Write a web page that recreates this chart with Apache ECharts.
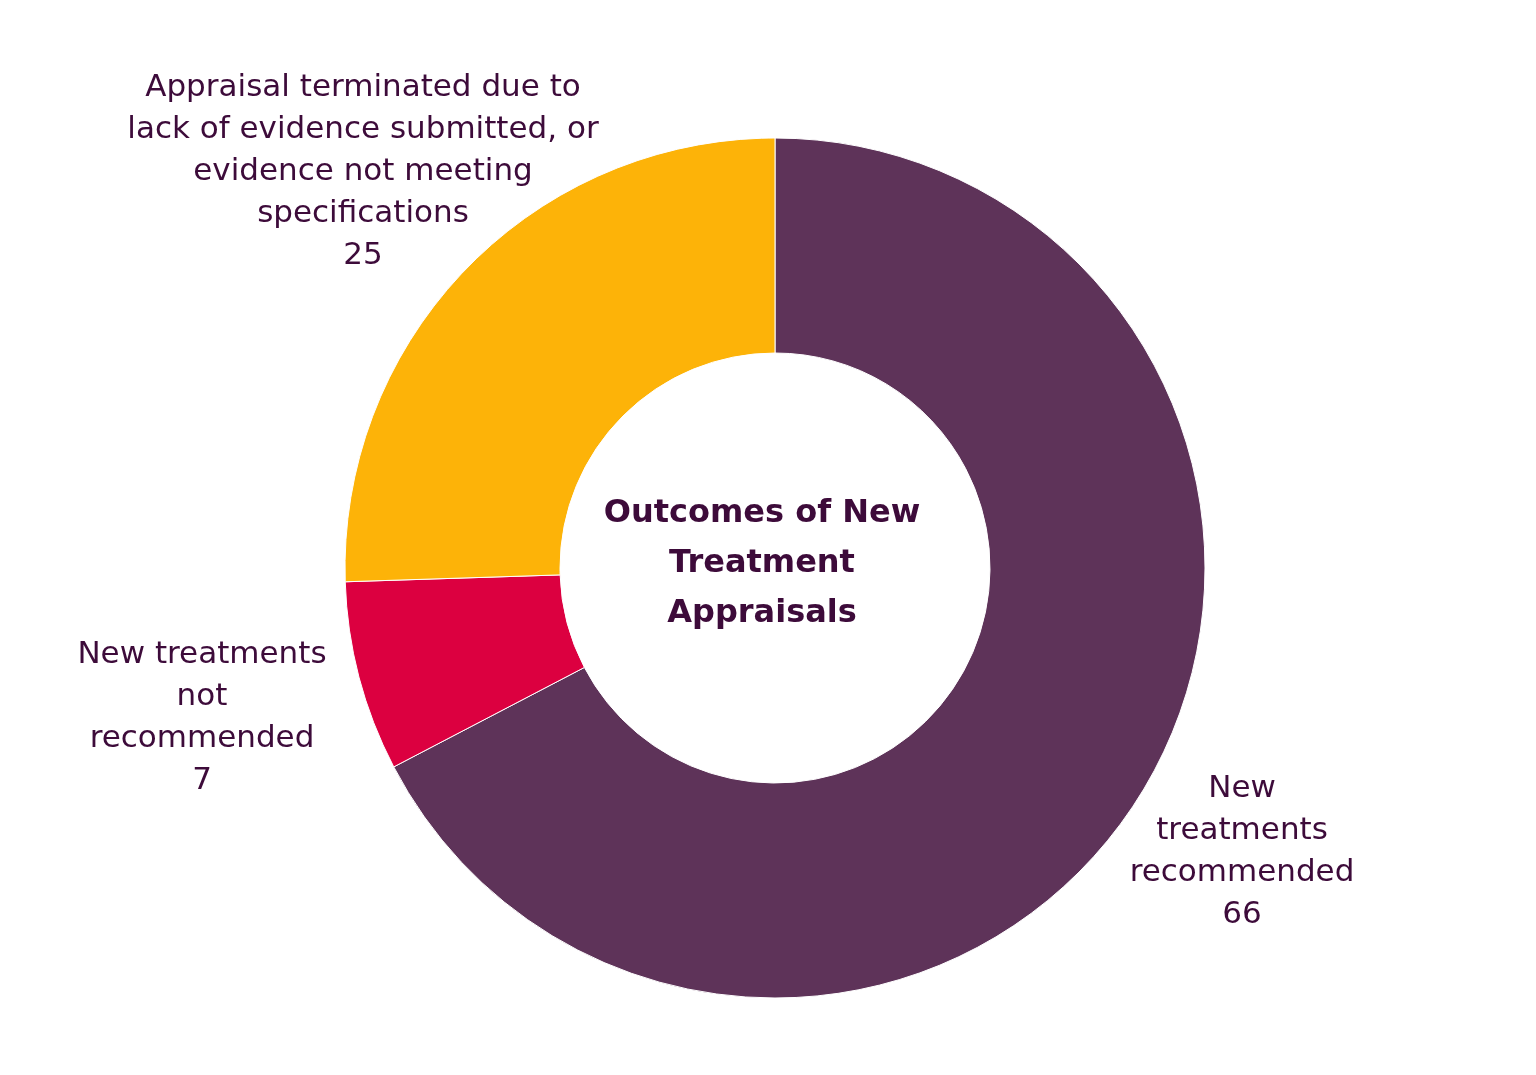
<!DOCTYPE html>
<html>
<head>
<meta charset="utf-8">
<style>
  html, body { margin: 0; padding: 0; background: #fff; }
  #chart { width: 1536px; height: 1075px; }
</style>
<script src="https://cdn.jsdelivr.net/npm/echarts@6/dist/echarts.min.js"></script>
</head>
<body>
<div id="chart"></div>
<script>
// outcome categories (label text, already wrapped as in the source)
var categories = [
    'New\ntreatments\nrecommended',
    'New treatments\nnot\nrecommended',
    'Appraisal terminated due to\nlack of evidence submitted, or\nevidence not meeting\nspecifications'
];
var counts = [66, 7, 25];
var colors = ['#5e3359', '#dc0040', '#fdb308'];
var centerTitle = 'Outcomes of New\nTreatment\nAppraisals';

// where each label block sits (centre of text, px)
var labelPos = [[1242, 852], [202, 718], [363, 172]];

var textColor = '#3d0b3a';
var fontFamily = '"DejaVu Sans", Inter, sans-serif';

var mychart = echarts.init(document.getElementById('chart'));

var option = {
    backgroundColor: '#fff',
    color: colors,
    graphic: [{
        type: 'text',
        x: 762,
        y: 564,
        style: {
            text: centerTitle,
            fill: textColor,
            font: 'bold 32px ' + fontFamily,
            lineHeight: 50,
            align: 'center',
            verticalAlign: 'middle'
        }
    }],
    series: [{
        name: 'Outcomes',
        type: 'pie',
        center: [775, 568],
        radius: [215, 430],
        startAngle: 90,
        clockwise: true,
        avoidLabelOverlap: false,
        itemStyle: { borderColor: '#fff', borderWidth: 1 },
        label: {
            show: true,
            position: 'outside',
            formatter: '{b}\n{c}',
            color: textColor,
            fontFamily: fontFamily,
            fontSize: 31,
            lineHeight: 42,
            align: 'center'
        },
        labelLine: { show: false },
        labelLayout: function (params) {
            var p = labelPos[params.dataIndex];
            return { x: p[0], y: p[1], align: 'center', verticalAlign: 'middle', hideOverlap: false };
        },
        emphasis: { disabled: true },
        data: categories.map(function (name, i) {
            return { name: name, value: counts[i] };
        })
    }]
};

mychart.setOption(option);
</script>
</body>
</html>
